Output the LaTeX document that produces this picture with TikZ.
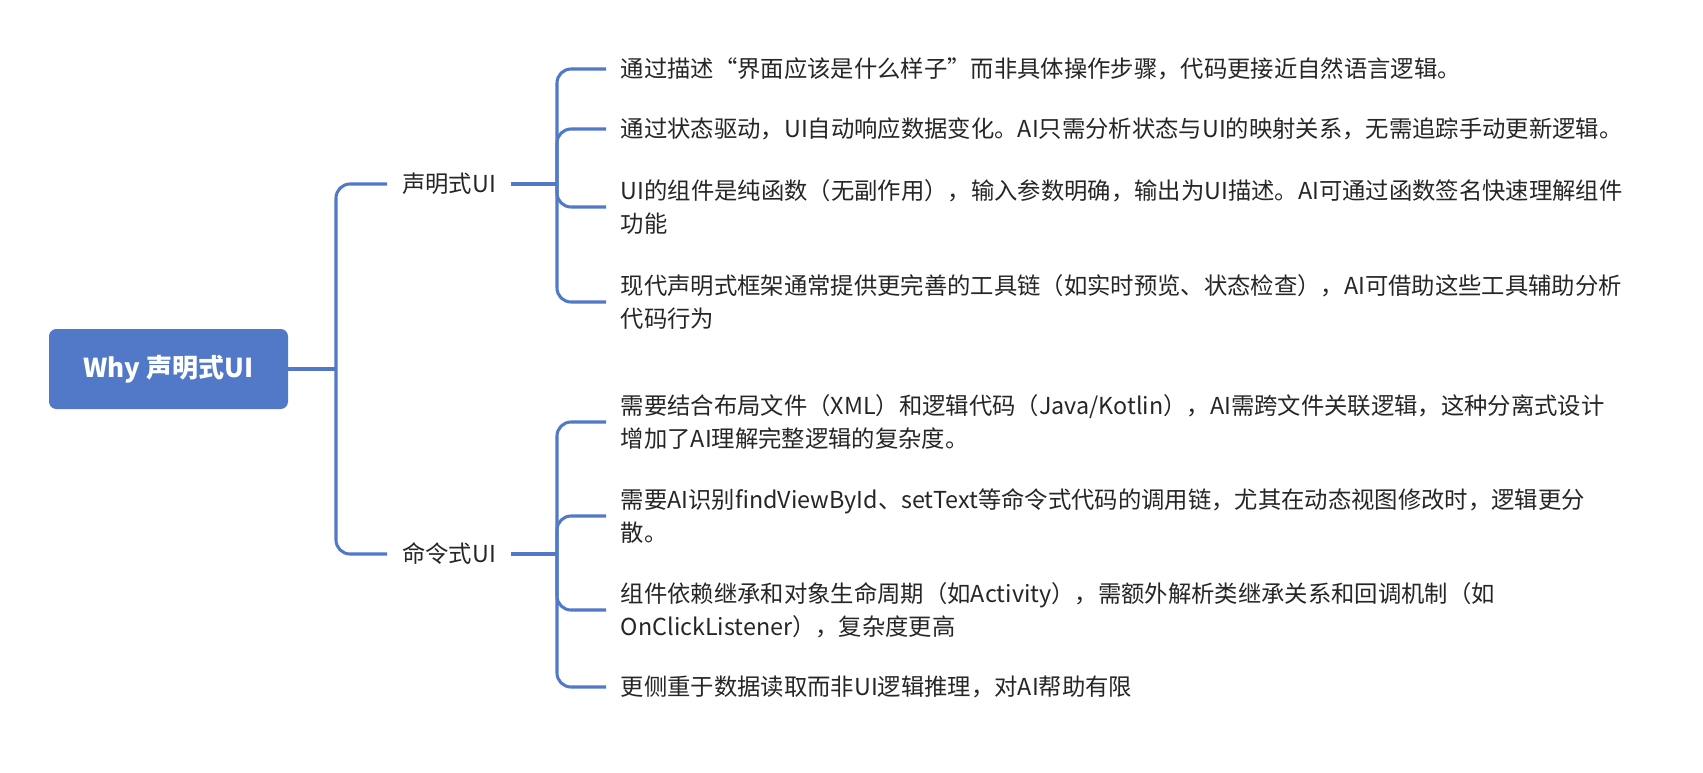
\documentclass[tikz,border=0pt]{standalone}
\usepackage{fontspec}
\setmainfont{Noto Sans CJK SC}
\definecolor{linkblue}{RGB}{82,121,200}
\definecolor{txtgray}{RGB}{38,38,38}
\begin{document}
\begin{tikzpicture}[x=0.75pt,y=-0.75pt,
  conn/.style={draw=linkblue,line width=2.3pt,rounded corners=10.5pt},
  rootbox/.style={fill=linkblue,rounded corners=5.5pt,minimum width=179.25pt,minimum height=60pt,text=white,font=\fontsize{19.5pt}{23pt}\selectfont\bfseries,inner sep=0pt},
  branch/.style={anchor=west,inner xsep=11.25pt,inner ysep=0pt,text=txtgray,font=\fontsize{17.5pt}{24.75pt}\selectfont},
  leaf/.style={anchor=west,inner xsep=11pt,inner ysep=0pt,align=left,text=txtgray,font=\fontsize{17.5pt}{24.75pt}\selectfont}]
\useasboundingbox (0,0) rectangle (1703,772);
\fill[white] (0,0) rectangle (1703,772);
\node[rootbox] (root) at (168.5,369) {Why 声明式UI};
\node[branch] (b1) at (387,184) {声明式UI};
\node[branch] (b2) at (387,554) {命令式UI};
\coordinate (j0) at (336,369);
\coordinate (j1) at (557,184);
\coordinate (j2) at (557,554);
\node[leaf] (c1) at (606,69) {通过描述“界面应该是什么样子”而非具体操作步骤，代码更接近自然语言逻辑。};
\node[leaf] (c2) at (606,129) {通过状态驱动，UI自动响应数据变化。AI只需分析状态与UI的映射关系，无需追踪手动更新逻辑。};
\node[leaf] (c3) at (606,207) {UI的组件是纯函数（无副作用），输入参数明确，输出为UI描述。AI可通过函数签名快速理解组件\\功能};
\node[leaf] (c4) at (606,302) {现代声明式框架通常提供更完善的工具链（如实时预览、状态检查），AI可借助这些工具辅助分析\\代码行为};
\node[leaf] (d1) at (606,422) {需要结合布局文件（XML）和逻辑代码（Java/Kotlin），AI需跨文件关联逻辑，这种分离式设计\\增加了AI理解完整逻辑的复杂度。};
\node[leaf] (d2) at (606,516) {需要AI识别findViewById、setText等命令式代码的调用链，尤其在动态视图修改时，逻辑更分\\散。};
\node[leaf] (d3) at (606,610) {组件依赖继承和对象生命周期（如Activity），需额外解析类继承关系和回调机制（如\\OnClickListener），复杂度更高};
\node[leaf] (d4) at (606,687) {更侧重于数据读取而非UI逻辑推理，对AI帮助有限};
\draw[conn] (root.east) -- (j0);
\draw[conn] (j0) |- (b1.west);
\draw[conn] (j0) |- (b2.west);
\draw[conn] (b1.east) -- (j1);
\draw[conn] (b2.east) -- (j2);
\foreach \c in {c1,c2,c3,c4} \draw[conn] (j1) |- (\c.west);
\foreach \c in {d1,d2,d3,d4} \draw[conn] (j2) |- (\c.west);
\end{tikzpicture}
\end{document}
